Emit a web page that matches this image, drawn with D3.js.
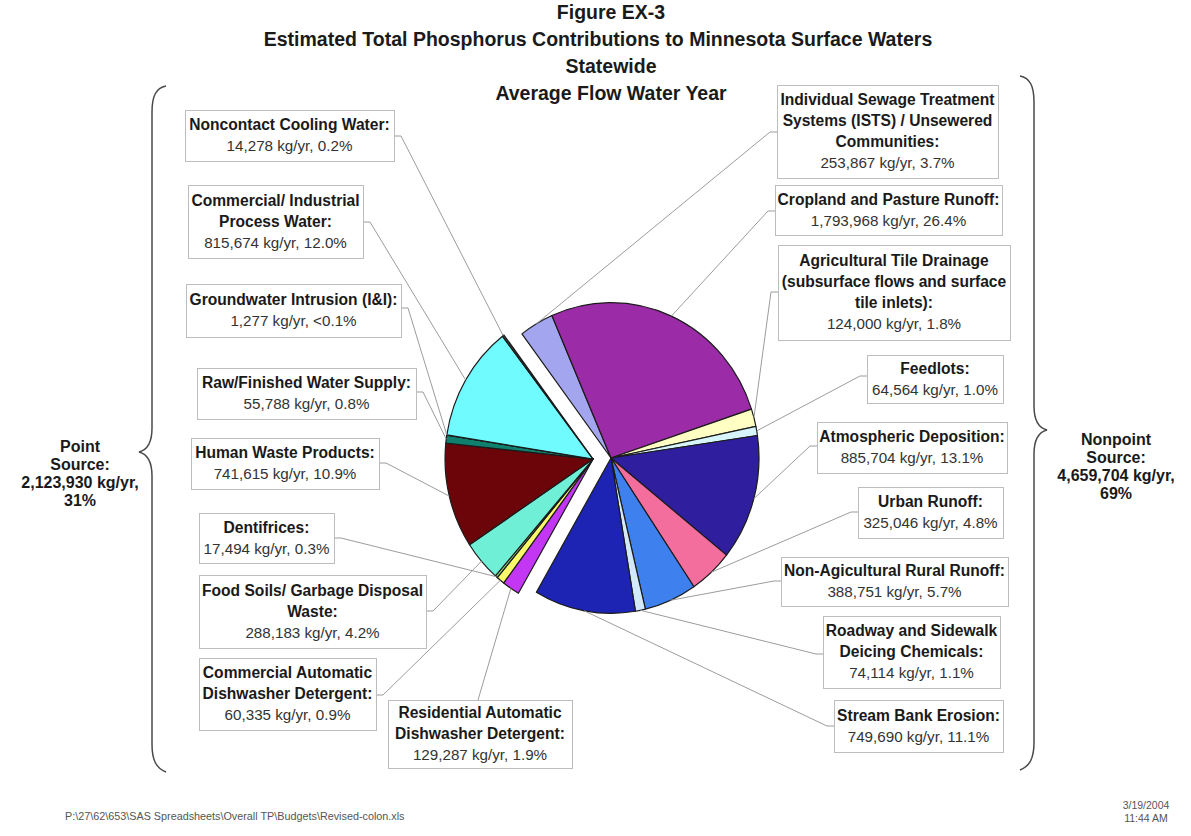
<!DOCTYPE html>
<html>
<head>
<meta charset="utf-8">
<script src="https://cdn.jsdelivr.net/npm/d3@7"></script>
<style>
    body { margin: 0; background: #fff; }
    svg text { font-family: "Liberation Sans", Arial, sans-serif; }
</style>
</head>
<body>
<svg id="chart" width="1191" height="836"></svg>
<script>
const titleLines = [
    "Figure EX-3",
    "Estimated Total Phosphorus Contributions to Minnesota Surface Waters",
    "Statewide",
    "Average Flow Water Year"
];

// slices in clockwise order, starting with ISTS at upper left
const sources = [
    "Individual Sewage Treatment\nSystems (ISTS) / Unsewered\nCommunities:",
    "Cropland and Pasture Runoff:",
    "Agricultural Tile Drainage\n(subsurface flows and surface\ntile inlets):",
    "Feedlots:",
    "Atmospheric Deposition:",
    "Urban Runoff:",
    "Non-Agicultural Rural Runoff:",
    "Roadway and Sidewalk\nDeicing Chemicals:",
    "Stream Bank Erosion:",
    "Residential Automatic\nDishwasher Detergent:",
    "Commercial Automatic\nDishwasher Detergent:",
    "Dentifrices:",
    "Food Soils/ Garbage Disposal\nWaste:",
    "Human Waste Products:",
    "Raw/Finished Water Supply:",
    "Groundwater Intrusion (I&I):",
    "Commercial/ Industrial\nProcess Water:",
    "Noncontact Cooling Water:"
];
const sourceGroup = ["N","N","N","N","N","N","N","N","N","P","P","P","P","P","P","P","P","P"];
const loads = [253867, 1793968, 124000, 64564, 885704, 325046, 388751, 74114, 749690,
               129287, 60335, 17494, 288183, 741615, 55788, 1277, 815674, 14278];
const pctLabels = ["3.7%", "26.4%", "1.8%", "1.0%", "13.1%", "4.8%", "5.7%", "1.1%", "11.1%",
                   "1.9%", "0.9%", "0.3%", "4.2%", "10.9%", "0.8%", "<0.1%", "12.0%", "0.2%"];
const sliceColors = ["#a3a5ee", "#9b2ba6", "#ffffc4", "#d6f6fb", "#2f1f9f", "#f36d9d", "#3f80ef", "#d2e8fb", "#1d23b3",
                     "#c336f4", "#f8f86a", "#8fd87a", "#6eefd6", "#6b0509", "#10806e", "#444444", "#6ffbff", "#3a3a3a"];

const groupNames = ["Point\nSource:", "Nonpoint\nSource:"];
const groupTotals = [2123930, 4659704];
const groupPct = ["31%", "69%"];

const footerPath = "P:\\27\\62\\653\\SAS Spreadsheets\\Overall TP\\Budgets\\Revised-colon.xls";
const footerDate = ["3/19/2004", "11:44 AM"];

// label box layout: x, y, w, h, anchor x, anchor y, elbow direction
const labelBoxes = [
    [777, 85, 221, 93, 777, 132, -1],
    [775, 185, 227, 50, 775, 211, -1],
    [778, 245, 232, 95, 778, 292, -1],
    [867, 355, 136, 48, 867, 376, -1],
    [817, 422, 190, 51, 817, 446, -1],
    [858, 487, 145, 51, 858, 512, -1],
    [781, 557, 227, 49, 781, 581, -1],
    [823, 616, 177, 72, 823, 654, -1],
    [834, 700, 169, 52, 834, 726, -1],
    [388, 700, 184, 68, 478, 700, 0],
    [199, 658, 177, 72, 376, 695, 1],
    [199, 513, 135, 50, 334, 538, 1],
    [199, 575, 227, 73, 426, 611, 1],
    [191, 438, 188, 51, 379, 463, 1],
    [197, 368, 219, 51, 416, 392, 1],
    [186, 284, 215, 53, 401, 308, 1],
    [188, 185, 175, 73, 363, 222, 1],
    [185, 110, 209, 51, 394, 136, 1]
];

const svg = d3.select("#chart");
const cx = 611, cy = 458, r = 148, yStretch = 1.05, explode = 18;
const startDeg = -37;
const lineH = 21;
const fmt = d3.format(",");

// title
svg.append("g").selectAll("text")
    .data(titleLines)
    .enter().append("text")
    .attr("x", (d, i) => i === 1 ? 598 : 611)
    .attr("y", (d, i) => 19 + i * 27)
    .attr("text-anchor", "middle")
    .attr("font-size", 19.5)
    .attr("font-weight", "bold")
    .attr("fill", "#1a1a1a")
    .text(d => d);

// pie
const rows = loads.map((v, i) => ({i: i, load: v, group: sourceGroup[i]}));
const startRad = startDeg * Math.PI / 180;
const pie = d3.pie().sort(null).value(d => d.load)
    .startAngle(startRad).endAngle(startRad + 2 * Math.PI);
const arcs = pie(rows);
const arc = d3.arc().innerRadius(0).outerRadius(r);

// the point source slices are pulled out together
const pointArcs = arcs.filter(a => a.data.group === "P");
const pMid = (pointArcs[0].startAngle + pointArcs[pointArcs.length - 1].endAngle) / 2;
const offsets = {
    N: [0, 0],
    P: [explode * Math.sin(pMid), -explode * Math.cos(pMid)]
};

const pieG = svg.append("g")
    .attr("transform", `translate(${cx},${cy}) scale(1,${yStretch})`);

pieG.selectAll("path")
    .data(arcs)
    .enter().append("path")
    .attr("transform", d => `translate(${offsets[d.data.group][0]},${offsets[d.data.group][1]})`)
    .attr("d", arc)
    .attr("fill", d => sliceColors[d.data.i])
    .attr("stroke", "#1b1b1b")
    .attr("stroke-width", 1.2)
    .attr("stroke-linejoin", "round")
    .attr("vector-effect", "non-scaling-stroke");

function edgePoint(a) {
    const m = (a.startAngle + a.endAngle) / 2;
    const off = offsets[a.data.group];
    return [cx + off[0] + r * Math.sin(m), cy + (off[1] - r * Math.cos(m)) * yStretch];
}

// leader lines
const line = d3.line();
svg.append("g").selectAll("path")
    .data(arcs)
    .enter().append("path")
    .attr("d", a => {
        const b = labelBoxes[a.data.i];
        const pts = [[b[4], b[5]]];
        if(b[6] !== 0) pts.push([b[4] + b[6] * 7, b[5]]);
        pts.push(edgePoint(a));
        return line(pts);
    })
    .attr("fill", "none")
    .attr("stroke", "#9c9c9c")
    .attr("stroke-width", 1);

// label boxes
const labels = svg.append("g").selectAll("g")
    .data(arcs)
    .enter().append("g");

labels.append("rect")
    .attr("x", a => labelBoxes[a.data.i][0] + 0.5)
    .attr("y", a => labelBoxes[a.data.i][1] + 0.5)
    .attr("width", a => labelBoxes[a.data.i][2])
    .attr("height", a => labelBoxes[a.data.i][3])
    .attr("fill", "#fff")
    .attr("stroke", "#bdbdbd")
    .attr("stroke-width", 1);

labels.each(function(a) {
    const i = a.data.i;
    const b = labelBoxes[i];
    const lines = sources[i].split("\n");
    lines.push(`${fmt(loads[i])} kg/yr, ${pctLabels[i]}`);
    const top = b[1] + b[3] / 2 - (lines.length - 1) * lineH / 2;
    d3.select(this).selectAll("text")
        .data(lines)
        .enter().append("text")
        .attr("x", b[0] + b[2] / 2)
        .attr("y", (d, k) => top + k * lineH + 5)
        .attr("text-anchor", "middle")
        .attr("font-size", (d, k) => k < lines.length - 1 ? 15.6 : 15.2)
        .attr("font-weight", (d, k) => k < lines.length - 1 ? "bold" : "normal")
        .attr("fill", (d, k) => k < lines.length - 1 ? "#1a1a1a" : "#333")
        .text(d => d);
});

// braces
svg.append("path")
    .attr("d", "M166,86 C156,88 152,96 152,112 L152,428 C152,444 147,450 139,452 C147,454 152,460 152,476 L152,744 C152,760 156,768 166,772")
    .attr("fill", "none").attr("stroke", "#4a4a4a").attr("stroke-width", 1.5);
svg.append("path")
    .attr("d", "M1020,76 C1030,78 1034,86 1034,102 L1034,406 C1034,422 1039,428 1047,430 C1039,432 1034,438 1034,454 L1034,742 C1034,758 1030,766 1020,770")
    .attr("fill", "none").attr("stroke", "#4a4a4a").attr("stroke-width", 1.5);

// group totals
const sideX = [80, 1116], sideY = [447, 440];
groupNames.forEach(function(g, k) {
    const lines = g.split("\n").concat([`${fmt(groupTotals[k])} kg/yr,`, groupPct[k]]);
    svg.append("g").selectAll("text")
        .data(lines)
        .enter().append("text")
        .attr("x", sideX[k])
        .attr("y", (d, j) => sideY[k] + j * 18 + 5)
        .attr("text-anchor", "middle")
        .attr("font-size", 16)
        .attr("font-weight", "bold")
        .attr("fill", "#1a1a1a")
        .text(d => d);
});

// footer
svg.append("text")
    .attr("x", 65).attr("y", 820)
    .attr("font-size", 10.8)
    .attr("fill", "#555")
    .text(footerPath);

svg.append("g").selectAll("text")
    .data(footerDate)
    .enter().append("text")
    .attr("x", 1146)
    .attr("y", (d, i) => 809 + i * 13)
    .attr("text-anchor", "middle")
    .attr("font-size", 10.5)
    .attr("fill", "#555")
    .text(d => d);
</script>
</body>
</html>
